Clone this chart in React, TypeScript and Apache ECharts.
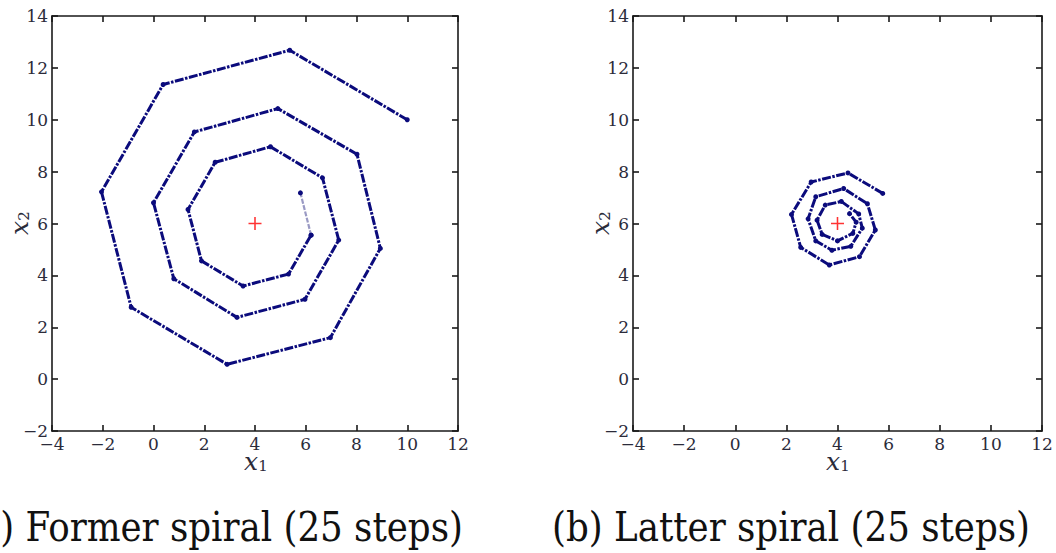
import React, { useEffect, useRef } from "react";
import * as echarts from "echarts";

// Former spiral (a): vertices
const formerX = [10.0, 5.37, 0.38, -2.05, -0.88, 2.9, 6.97, 8.94, 8.02, 4.9, 1.61, 0.0, 0.8, 3.29, 5.97, 7.3, 6.66, 4.61, 2.43, 1.36, 1.89, 3.53, 5.32, 6.21, 5.79];
const formerY = [10.0, 12.68, 11.36, 7.22, 2.77, 0.57, 1.6, 5.04, 8.67, 10.43, 9.53, 6.8, 3.87, 2.38, 3.08, 5.36, 7.76, 8.96, 8.36, 6.54, 4.56, 3.59, 4.05, 5.55, 7.18];

// Latter spiral (b)
const latterX = [5.77, 4.41, 2.97, 2.2, 2.56, 3.68, 4.86, 5.48, 5.17, 4.24, 3.15, 2.85, 3.15, 3.78, 4.52, 4.97, 4.83, 4.15, 3.52, 3.2, 3.4, 4.0, 4.6, 4.73, 4.47];
const latterY = [7.16, 7.95, 7.6, 6.35, 5.08, 4.4, 4.72, 5.75, 6.76, 7.35, 7.03, 6.18, 5.33, 4.97, 5.12, 5.82, 6.37, 6.85, 6.71, 6.13, 5.58, 5.33, 5.62, 6.05, 6.38];

const target = [4, 6];
const xRange = [-4, 12];
const yRange = [-2, 14];
const tickStep = 2;
const captions = ["(a) Former spiral (25 steps)", "(b) Latter spiral (25 steps)"];

const FONT = "DejaVu Serif";
const NAVY = "#0b0b7c";
const INK = "#1a1a1a";
const LABEL = "#2b2b3a";

const fmt = (v: number) => String(v).replace("-", "\u2212");

function makeXAxis(grid: number, pos: "bottom" | "top") {
  return {
    type: "value",
    gridIndex: grid,
    position: pos,
    min: xRange[0],
    max: xRange[1],
    interval: tickStep,
    axisLine: { show: true, onZero: false, lineStyle: { color: INK, width: 1.6 } },
    axisTick: { show: true, inside: true, length: 6, lineStyle: { color: INK, width: 1.6 } },
    axisLabel: {
      show: pos === "bottom",
      color: LABEL,
      fontFamily: FONT,
      fontSize: 17,
      margin: 4,
      formatter: fmt,
    },
    splitLine: { show: false },
  };
}

function makeYAxis(grid: number, pos: "left" | "right") {
  return {
    type: "value",
    gridIndex: grid,
    position: pos,
    min: yRange[0],
    max: yRange[1],
    interval: tickStep,
    axisLine: { show: true, onZero: false, lineStyle: { color: INK, width: 1.6 } },
    axisTick: { show: true, inside: true, length: 6, lineStyle: { color: INK, width: 1.6 } },
    axisLabel: {
      show: pos === "left",
      color: LABEL,
      fontFamily: FONT,
      fontSize: 17,
      margin: 4,
      formatter: fmt,
    },
    splitLine: { show: false },
  };
}

const PLUS = "path://M0,4.4H10V5.6H0Z M4.4,0H5.6V10H4.4Z";

function spiralSeries(xs: number[], ys: number[], axis: number, fadeTail: boolean) {
  const pts = xs.map((x, i) => [x, ys[i]]);
  const main = fadeTail ? pts.slice(0, pts.length - 1) : pts;
  const out: any[] = [
    {
      type: "line",
      xAxisIndex: axis,
      yAxisIndex: axis,
      data: main,
      symbol: "circle",
      symbolSize: 5,
      itemStyle: { color: NAVY },
      lineStyle: { color: NAVY, width: 3, type: [9, 1.5, 2.5, 1.5] },
      z: 3,
    },
  ];
  if (fadeTail) {
    out.push({
      type: "line",
      xAxisIndex: axis,
      yAxisIndex: axis,
      data: pts.slice(pts.length - 2),
      symbol: "circle",
      symbolSize: 5,
      itemStyle: { color: NAVY },
      lineStyle: { color: "#9a9ac4", width: 2.2, type: [5, 1.5] },
      z: 2,
    });
  }
  out.push({
    type: "scatter",
    xAxisIndex: axis,
    yAxisIndex: axis,
    data: [target],
    symbol: PLUS,
    symbolSize: 13,
    itemStyle: { color: "#ff0000" },
    z: 5,
  });
  return out;
}

function axisTitles(cx: number, bottomY: number, leftX: number, midY: number) {
  return [
    {
      type: "text",
      x: cx - 4,
      y: bottomY,
      style: { text: "x", fontFamily: FONT, fontStyle: "italic", fontSize: 25, fill: LABEL, align: "center", verticalAlign: "middle" },
    },
    {
      type: "text",
      x: cx + 8,
      y: bottomY + 5,
      style: { text: "1", fontFamily: FONT, fontSize: 15, fill: LABEL, align: "center", verticalAlign: "middle" },
    },
    {
      type: "group",
      x: leftX,
      y: midY,
      rotation: Math.PI / 2,
      children: [
        {
          type: "text",
          x: -4,
          y: 0,
          style: { text: "x", fontFamily: FONT, fontStyle: "italic", fontSize: 25, fill: LABEL, align: "center", verticalAlign: "middle" },
        },
        {
          type: "text",
          x: 8,
          y: 5,
          style: { text: "2", fontFamily: FONT, fontSize: 15, fill: LABEL, align: "center", verticalAlign: "middle" },
        },
      ],
    },
  ];
}

function caption(text: string, x: number) {
  return {
    type: "group",
    x,
    y: 527,
    scaleX: 0.87,
    children: [
      {
        type: "text",
        x: 0,
        y: 0,
        style: { text, fontFamily: FONT, fontSize: 41, fill: "#111", align: "left", verticalAlign: "middle" },
      },
    ],
  };
}

export default function App() {
  const ref = useRef<HTMLDivElement>(null);
  useEffect(() => {
    if (!ref.current) return;
    const chart = echarts.init(ref.current, undefined, { renderer: "svg" });
    chart.setOption({
      animation: false,
      backgroundColor: "#ffffff",
      grid: [
        { left: 52, top: 16, width: 406, height: 415 },
        { left: 633, top: 16, width: 409, height: 415 },
      ],
      xAxis: [makeXAxis(0, "bottom"), makeXAxis(0, "top"), makeXAxis(1, "bottom"), makeXAxis(1, "top")],
      yAxis: [makeYAxis(0, "left"), makeYAxis(0, "right"), makeYAxis(1, "left"), makeYAxis(1, "right")],
      series: [
        ...spiralSeries(formerX, formerY, 0, true),
        ...spiralSeries(latterX, latterY, 2, false),
      ],
      graphic: [
        ...axisTitles(255, 461, 19, 224),
        ...axisTitles(837, 461, 600, 224),
        caption(captions[0], -35),
        caption(captions[1], 552),
      ],
    });
    return () => chart.dispose();
  }, []);
  return <div ref={ref} style={{ position: "absolute", left: 0, top: 0, width: 1056, height: 553 }} />;
}
